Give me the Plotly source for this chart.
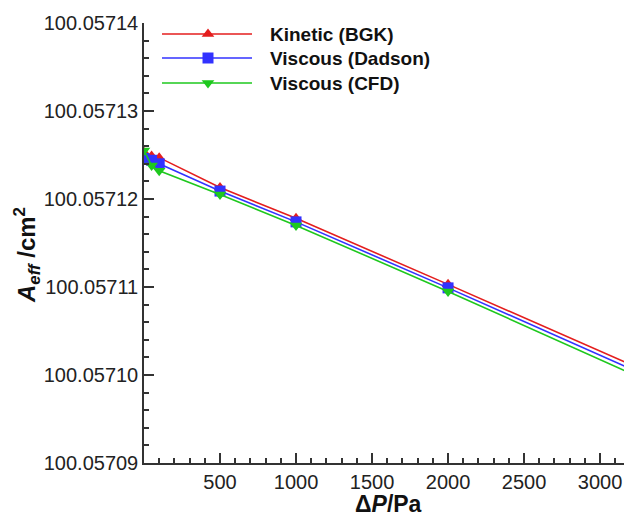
import plotly.graph_objects as go

# pressure difference (Pa)
dp = [0, 50, 100, 500, 1000, 2000, 3200]

# effective area (cm^2)
a_kinetic = [100.0571253, 100.0571249, 100.0571247, 100.0571213, 100.0571178, 100.0571103, 100.0571012]
a_dadson = [100.0571246, 100.0571244, 100.0571240, 100.0571209, 100.0571174, 100.0571099, 100.0571007]
a_cfd = [100.0571255, 100.0571238, 100.0571232, 100.0571205, 100.0571170, 100.0571095, 100.0571002]

names = ["Kinetic (BGK)", "Viscous (Dadson)", "Viscous (CFD)"]
colors = ["#e41e1e", "#3232ff", "#1ec81e"]
symbols = ["triangle-up", "square", "triangle-down"]

x_ticks = [500, 1000, 1500, 2000, 2500, 3000]
y_ticks = [100.05709, 100.05710, 100.05711, 100.05712, 100.05713, 100.05714]

# the page puts the figure 8px in from the corner, so shrink it by that much
OFF = 8
W, H = 632 - OFF, 520 - OFF
L, R, T, B = 136, 0, 15, 57
PW, PH = W - L - R, H - T - B


def px(sx):
    return (sx - OFF - L) / PW


def py(sy):
    return (H - B - (sy - OFF)) / PH


fig = go.Figure()

for vals, name, col, sym in zip([a_kinetic, a_dadson, a_cfd], names, colors, symbols):
    fig.add_trace(go.Scatter(
        x=dp, y=vals, name=name, mode="lines+markers",
        line=dict(color=col, width=1.6),
        marker=dict(color=col, symbol=sym, size=11),
        showlegend=False,
    ))

# hand-made legend: long line sample with marker in the middle
leg_rows = [34, 58, 83]
for name, col, sym, ry in zip(names, colors, symbols, leg_rows):
    fig.add_shape(type="line", xref="paper", yref="paper",
                  x0=px(162), x1=px(252), y0=py(ry), y1=py(ry),
                  line=dict(color=col, width=1.6))
    fig.add_trace(go.Scatter(
        x=[px(208)], y=[py(ry)], xaxis="x2", yaxis="y2",
        mode="markers", marker=dict(color=col, symbol=sym, size=11),
        showlegend=False, hoverinfo="skip",
    ))
    fig.add_annotation(text="<b>" + name + "</b>", xref="paper", yref="paper",
                       x=px(268), y=py(ry), xanchor="left", yanchor="middle",
                       showarrow=False, font=dict(size=19, color="#111"))

# axis titles
fig.add_annotation(
    text="<b><i>A</i><sub><i>eff</i></sub> /cm<sup>2</sup></b>",
    xref="paper", yref="paper", x=px(27), y=py(255),
    xanchor="center", yanchor="middle", textangle=-90, showarrow=False,
    font=dict(size=24, color="#111"),
)
fig.add_annotation(
    text="<b>Δ<i>P</i>/Pa</b>",
    xref="paper", yref="paper", x=px(388), y=py(504),
    xanchor="center", yanchor="middle", showarrow=False,
    font=dict(size=23, color="#111"),
)

axis_style = dict(
    showgrid=False, zeroline=False, showline=True, linecolor="#333", linewidth=1.5,
    ticks="inside", ticklen=10, tickwidth=1.5, tickcolor="#333",
    tickfont=dict(size=20, color="#222"), automargin=False,
)

fig.update_layout(
    width=W, height=H,
    margin=dict(l=L, r=R, t=T, b=B),
    paper_bgcolor="white", plot_bgcolor="white",
    font=dict(family="Liberation Sans, Arial, sans-serif", color="#222"),
    xaxis=dict(
        range=[0, 3210], tickmode="array", tickvals=x_ticks,
        minor=dict(dtick=100, tick0=0, ticks="inside", ticklen=5, tickcolor="#333"),
        **axis_style,
    ),
    yaxis=dict(
        range=[100.05709, 100.05714], tickmode="array", tickvals=y_ticks,
        tickformat=".5f",
        minor=dict(dtick=0.000002, tick0=100.05709, ticks="inside", ticklen=5, tickcolor="#333"),
        **axis_style,
    ),
    xaxis2=dict(overlaying="x", range=[0, 1], visible=False),
    yaxis2=dict(overlaying="y", range=[0, 1], visible=False),
)

fig.write_html("out.html")
